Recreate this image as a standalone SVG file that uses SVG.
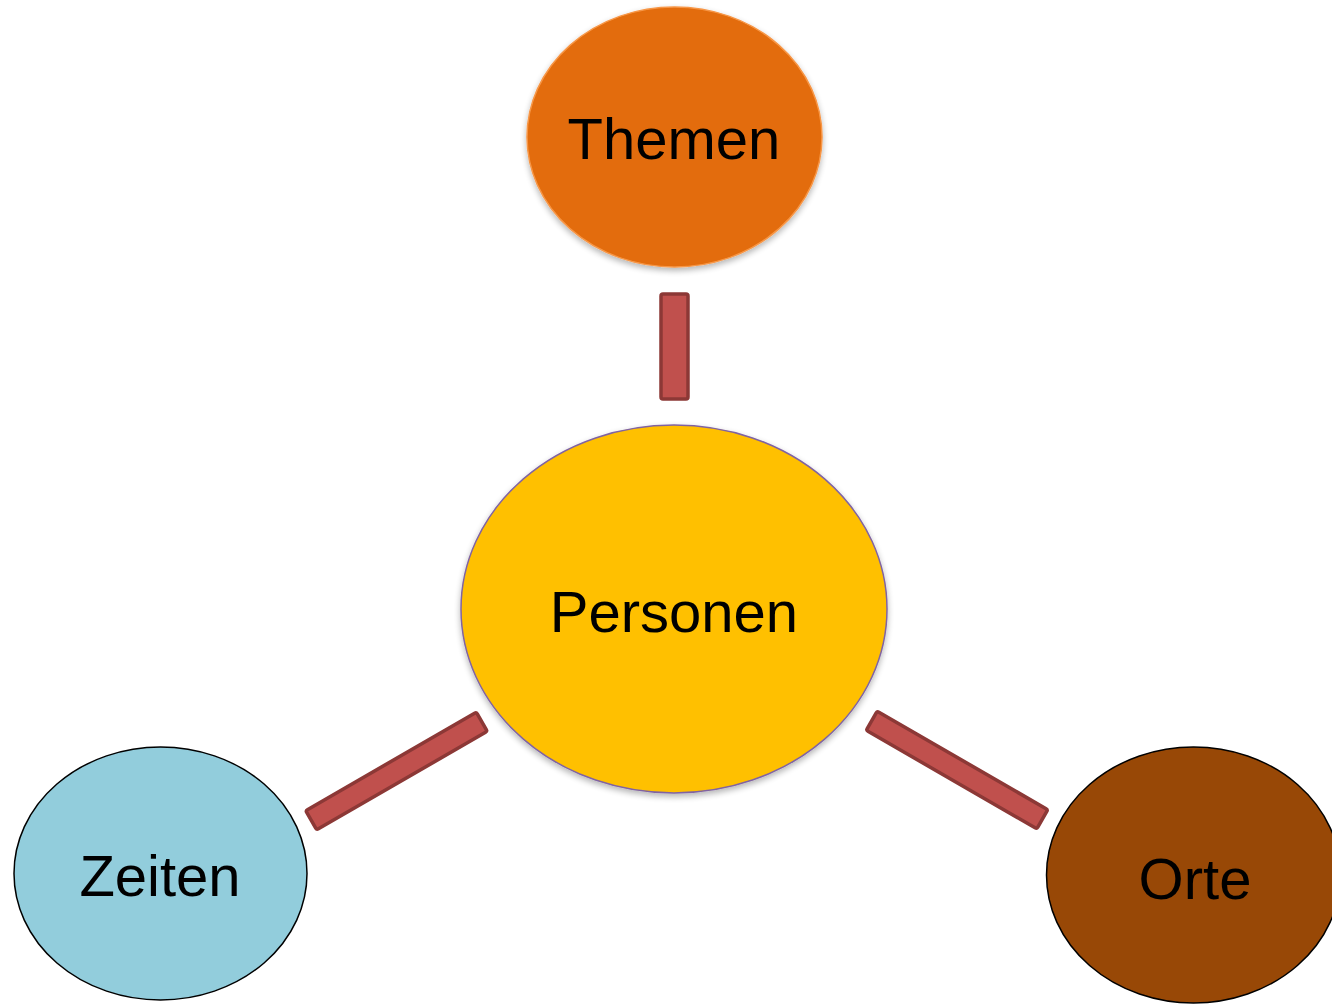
<svg xmlns="http://www.w3.org/2000/svg" width="1332" height="1004" viewBox="0 0 1332 1004">
<defs>
<style>
.lbl{font-family:"Liberation Sans",Arial,sans-serif;font-size:58px;fill:#000;text-anchor:middle}
.bar{fill:#C0504D;stroke:#8C3836;stroke-width:3.5}
</style>
<filter id="sh" x="-20%" y="-20%" width="140%" height="150%">
<feGaussianBlur in="SourceAlpha" stdDeviation="3"/>
<feOffset dx="0" dy="3"/>
<feComponentTransfer><feFuncA type="linear" slope="0.3"/></feComponentTransfer>
<feMerge><feMergeNode/><feMergeNode in="SourceGraphic"/></feMerge>
</filter>
</defs>
<rect width="1332" height="1004" fill="#fff"/>
<g id="connectors">
<rect class="bar" x="661" y="294" width="27" height="105" rx="2"/>
<rect class="bar" x="298" y="760" width="197" height="22" rx="2" transform="rotate(-30 396.5 771)"/>
<rect class="bar" x="858.5" y="759" width="197" height="22" rx="2" transform="rotate(30 957 770)"/>
</g>
<g id="themen">
<ellipse cx="674.5" cy="137" rx="147.5" ry="130" fill="#E36C0A" stroke="#F79646" stroke-width="1.5" filter="url(#sh)"/>
<text class="lbl" x="674" y="159">Themen</text>
</g>
<g id="personen">
<ellipse cx="674" cy="609" rx="213" ry="184" fill="#FFC000" stroke="#8064A2" stroke-width="1.5" filter="url(#sh)"/>
<text class="lbl" x="674" y="632">Personen</text>
</g>
<g id="zeiten">
<ellipse cx="160.5" cy="873.5" rx="146.5" ry="126.5" fill="#92CDDC" stroke="#000" stroke-width="1.5"/>
<text class="lbl" x="160" y="896">Zeiten</text>
</g>
<g id="orte">
<ellipse cx="1193.5" cy="875" rx="147" ry="128" fill="#984806" stroke="#000" stroke-width="1.5"/>
<text class="lbl" x="1195" y="899">Orte</text>
</g>
</svg>
